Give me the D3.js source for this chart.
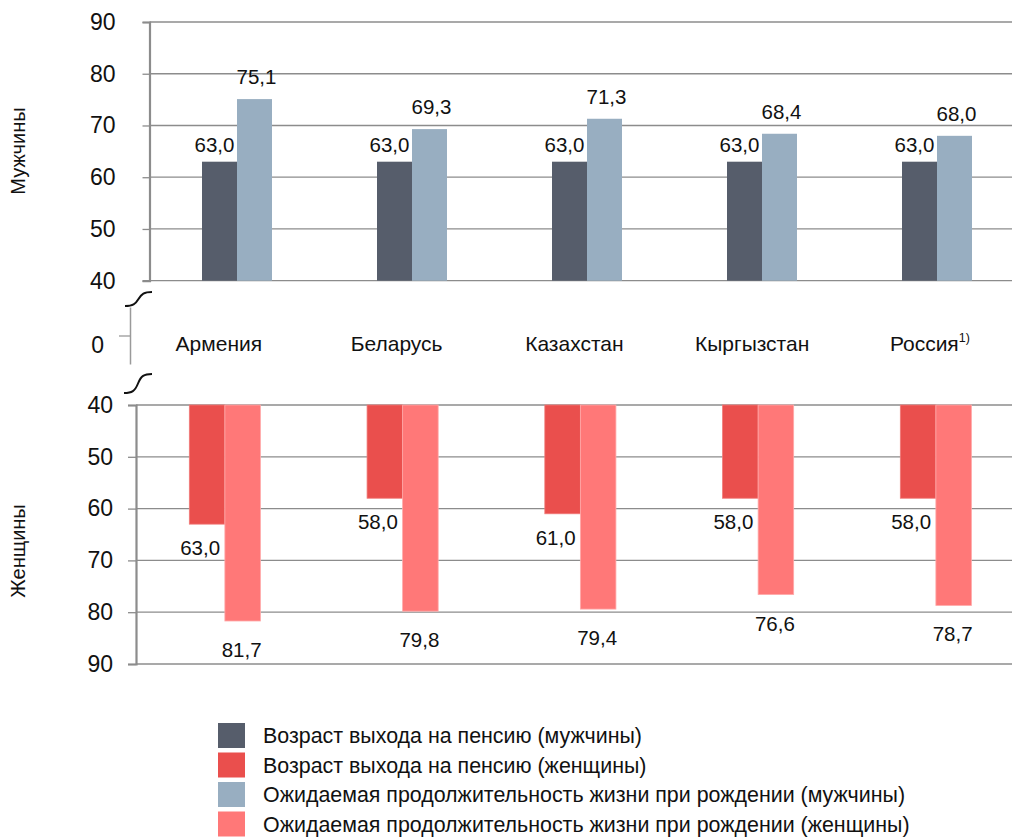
<!DOCTYPE html>
<html>
<head>
<meta charset="utf-8">
<script src="https://cdn.jsdelivr.net/npm/d3@7"></script>
<style>
  html, body { margin: 0; padding: 0; background: #fff; }
  svg { display: block; font-family: "Liberation Sans", Arial, sans-serif; }
</style>
</head>
<body>
<svg id="chart" width="1012" height="838"></svg>
<script>
const categories = ["Армения", "Беларусь", "Казахстан", "Кыргызстан", "Россия"];
const categoryNotes = ["", "", "", "", "1)"];
const maleRetire = [63.0, 63.0, 63.0, 63.0, 63.0];
const maleLife = [75.1, 69.3, 71.3, 68.4, 68.0];
const femaleRetire = [63.0, 58.0, 61.0, 58.0, 58.0];
const femaleLife = [81.7, 79.8, 79.4, 76.6, 78.7];
const yTicks = [40, 50, 60, 70, 80, 90];
const midTicks = [0];
const topTitle = "Мужчины";
const bottomTitle = "Женщины";
const legendLabels = [
  "Возраст выхода на пенсию (мужчины)",
  "Возраст выхода на пенсию (женщины)",
  "Ожидаемая продолжительность жизни при рождении (мужчины)",
  "Ожидаемая продолжительность жизни при рождении (женщины)"
];

const COLORS = {
  maleRetire: "#565d6b",
  femaleRetire: "#ea4f4d",
  maleLife: "#98aec1",
  femaleLife: "#ff7878"
};
const legendColors = [COLORS.maleRetire, COLORS.femaleRetire, COLORS.maleLife, COLORS.femaleLife];

const svg = d3.select("#chart");
const W = 1012;
const fmt = v => d3.format(".1f")(v).replace(".", ",");
const gridColor = "#8c8c8c";

// ---------- Top panel (men) ----------
const topAxisX = 149.5;
const xTop = d3.scaleBand().domain(categories).range([topAxisX, topAxisX + 875]).paddingInner(0.6).paddingOuter(0.3);
const yTop = d3.scaleLinear().domain([40, 90]).range([280.7, 22]);

const gTop = svg.append("g");
gTop.selectAll("line.grid").data(yTicks).join("line")
  .attr("x1", topAxisX).attr("x2", W)
  .attr("y1", d => yTop(d)).attr("y2", d => yTop(d))
  .attr("stroke", gridColor).attr("stroke-width", 1.3);

const topData = categories.map((c, i) => ({ c, a: maleRetire[i], b: maleLife[i] }));
const bwTop = xTop.bandwidth() / 2;
gTop.selectAll("rect.a").data(topData).join("rect")
  .attr("x", d => xTop(d.c)).attr("width", bwTop)
  .attr("y", d => yTop(d.a)).attr("height", d => yTop(40) - yTop(d.a))
  .attr("fill", COLORS.maleRetire);
gTop.selectAll("rect.b").data(topData).join("rect")
  .attr("x", d => xTop(d.c) + bwTop).attr("width", bwTop)
  .attr("y", d => yTop(d.b)).attr("height", d => yTop(40) - yTop(d.b))
  .attr("fill", COLORS.maleLife);

gTop.selectAll("text.la").data(topData).join("text")
  .attr("x", d => xTop(d.c) + bwTop / 2 - 5).attr("y", d => yTop(d.a) - 10)
  .attr("text-anchor", "middle").attr("font-size", 20.5).attr("fill", "#111")
  .text(d => fmt(d.a));
gTop.selectAll("text.lb").data(topData).join("text")
  .attr("x", d => xTop(d.c) + bwTop * 1.5 + 2).attr("y", d => yTop(d.b) - 15)
  .attr("text-anchor", "middle").attr("font-size", 20.5).attr("fill", "#111")
  .text(d => fmt(d.b));

const axTop = gTop.append("g").attr("transform", `translate(${topAxisX},0)`)
  .call(d3.axisLeft(yTop).tickValues(yTicks).tickSize(7).tickPadding(27).tickFormat(d3.format("d")));
axTop.select(".domain").attr("stroke", gridColor).attr("stroke-width", 2.2);
axTop.selectAll(".tick line").attr("stroke", gridColor).attr("stroke-width", 1.3);
axTop.selectAll(".tick text").attr("font-size", 23).attr("fill", "#111").attr("font-family", "Liberation Sans, Arial, sans-serif");

// ---------- Bottom panel (women) ----------
const botAxisX = 136;
const xBot = d3.scaleBand().domain(categories).range([botAxisX, botAxisX + 888.75]).paddingInner(0.6).paddingOuter(0.3);
const yBot = d3.scaleLinear().domain([40, 90]).range([405, 664]);

const gBot = svg.append("g");
gBot.selectAll("line.grid").data(yTicks).join("line")
  .attr("x1", botAxisX).attr("x2", W)
  .attr("y1", d => yBot(d)).attr("y2", d => yBot(d))
  .attr("stroke", gridColor).attr("stroke-width", 1.3);

const botData = categories.map((c, i) => ({ c, a: femaleRetire[i], b: femaleLife[i] }));
const bwBot = xBot.bandwidth() / 2;
gBot.selectAll("rect.a").data(botData).join("rect")
  .attr("x", d => xBot(d.c)).attr("width", bwBot)
  .attr("y", yBot(40)).attr("height", d => yBot(d.a) - yBot(40))
  .attr("fill", COLORS.femaleRetire).attr("stroke", "#f07a78").attr("stroke-width", 0.8);
gBot.selectAll("rect.b").data(botData).join("rect")
  .attr("x", d => xBot(d.c) + bwBot).attr("width", bwBot)
  .attr("y", yBot(40)).attr("height", d => yBot(d.b) - yBot(40))
  .attr("fill", COLORS.femaleLife).attr("stroke", "#ffaaaa").attr("stroke-width", 0.8);

gBot.selectAll("text.la").data(botData).join("text")
  .attr("x", d => xBot(d.c) + bwBot / 2 - 7).attr("y", d => yBot(d.a) + 31)
  .attr("text-anchor", "middle").attr("font-size", 20.5).attr("fill", "#111")
  .text(d => fmt(d.a));
gBot.selectAll("text.lb").data(botData).join("text")
  .attr("x", d => xBot(d.c) + bwBot * 1.5 - 1).attr("y", d => yBot(d.b) + 36)
  .attr("text-anchor", "middle").attr("font-size", 20.5).attr("fill", "#111")
  .text(d => fmt(d.b));

const axBot = gBot.append("g").attr("transform", `translate(${botAxisX},0)`)
  .call(d3.axisLeft(yBot).tickValues(yTicks).tickSize(8).tickPadding(15).tickFormat(d3.format("d")));
axBot.select(".domain").attr("stroke", gridColor).attr("stroke-width", 2.2);
axBot.selectAll(".tick line").attr("stroke", gridColor).attr("stroke-width", 1.3);
axBot.selectAll(".tick text").attr("font-size", 23).attr("fill", "#111").attr("font-family", "Liberation Sans, Arial, sans-serif");

// ---------- Middle (category labels and zero axis) ----------
const midAxisX = 130;
const xMid = d3.scaleBand().domain(categories).range([midAxisX, midAxisX + 888.75]).paddingInner(0.6).paddingOuter(0.3);
const yMid = d3.scaleLinear().domain([-1, 1]).range([364, 307]);

const gMid = svg.append("g");
const axMid = gMid.append("g").attr("transform", `translate(${midAxisX},0)`)
  .call(d3.axisLeft(yMid).tickValues(midTicks).tickSize(11).tickPadding(15).tickSizeOuter(0).tickFormat(d3.format("d")));
axMid.select(".domain").attr("stroke", "#9a9a9a").attr("stroke-width", 1.5);
axMid.selectAll(".tick line").attr("stroke", "#9a9a9a").attr("stroke-width", 1.3);
axMid.selectAll(".tick text").attr("font-size", 23).attr("fill", "#111").attr("dy", "0.75em")
  .attr("font-family", "Liberation Sans, Arial, sans-serif");

const catText = gMid.selectAll("text.cat").data(categories).join("text")
  .attr("x", d => xMid(d) + xMid.bandwidth() / 2)
  .attr("y", 351)
  .attr("text-anchor", "middle").attr("font-size", 21).attr("fill", "#111");
catText.append("tspan").text(d => d);
catText.append("tspan")
  .attr("font-size", 12.5).attr("dy", -9)
  .text((d, i) => categoryNotes[i]);

// break marks
const breakPath = (x0, y0, x1, y1) => {
  const mx = (x0 + x1) / 2, my = (y0 + y1) / 2;
  return `M${x0},${y0} C${x0 + 8},${y0} ${mx - 3},${y0 - 2} ${mx},${my} S${x1 - 8},${y1} ${x1},${y1}`;
};
gMid.append("path").attr("d", breakPath(125, 306, 152, 292))
  .attr("fill", "none").attr("stroke", "#111").attr("stroke-width", 2);
gMid.append("path").attr("d", breakPath(124, 393, 152, 374))
  .attr("fill", "none").attr("stroke", "#111").attr("stroke-width", 2);

// ---------- Axis titles ----------
svg.append("text").attr("transform", "translate(25,151) rotate(-90)")
  .attr("text-anchor", "middle").attr("font-size", 20).attr("fill", "#111").text(topTitle);
svg.append("text").attr("transform", "translate(25,551) rotate(-90)")
  .attr("text-anchor", "middle").attr("font-size", 20).attr("fill", "#111").text(bottomTitle);

// ---------- Legend ----------
const gLeg = svg.append("g").attr("transform", "translate(218,723)");
const legItems = gLeg.selectAll("g").data(legendLabels).join("g")
  .attr("transform", (d, i) => `translate(0,${i * 29.5})`);
legItems.append("rect").attr("width", 27).attr("height", 25).attr("fill", (d, i) => legendColors[i]);
legItems.append("text").attr("x", 45).attr("y", 20).attr("font-size", 21.4).attr("fill", "#111").text(d => d);
</script>
</body>
</html>
